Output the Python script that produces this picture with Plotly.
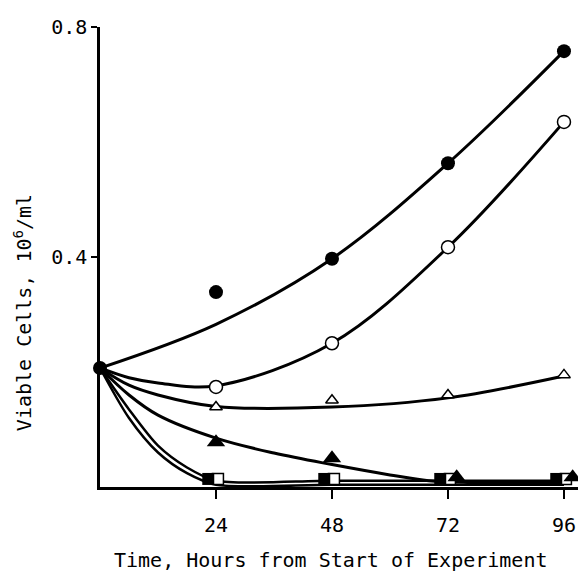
import plotly.graph_objects as go

# ---- data ----
hours = [0, 24, 48, 72, 96]
marker_hours = [24, 48, 72, 96]

# filled circles
filled_circle_vals = [0.207, 0.339, 0.397, 0.563, 0.758]
# open circles
open_circle_hours = [24, 48, 72, 96]
open_circle_vals = [0.174, 0.25, 0.417, 0.635]
# open triangles
open_tri_vals = [0.139, 0.151, 0.16, 0.195]
# filled triangles
filled_tri_vals = [0.078, 0.05, 0.017, 0.017]
# filled / open squares
filled_sq_vals = [0.014, 0.014, 0.014, 0.014]
open_sq_vals = [0.014, 0.014, 0.014, 0.014]

# fitted curves
fc_curve_hours = [0, 24, 48, 72, 96]
fc_curve_vals = [0.207, 0.283, 0.397, 0.563, 0.758]

oc_curve_hours = [0, 6, 12, 24, 48, 72, 96]
oc_curve_vals = [0.207, 0.19, 0.181, 0.176, 0.25, 0.417, 0.635]

ot_curve_hours = [0, 6, 12, 24, 48, 72, 96]
ot_curve_vals = [0.207, 0.177, 0.16, 0.14, 0.139, 0.155, 0.193]

ft_curve_hours = [0, 6, 12, 24, 36, 48, 60, 68, 76, 96]
ft_curve_vals = [0.207, 0.16, 0.125, 0.085, 0.059, 0.039, 0.021, 0.011, 0.008, 0.008]

fs_curve_hours = [0, 6, 12, 18, 24, 48, 72, 96]
fs_curve_vals = [0.207, 0.12, 0.06, 0.024, 0.004, 0.004, 0.004, 0.004]

os_curve_hours = [0, 6, 12, 18, 24, 48, 72, 96]
os_curve_vals = [0.207, 0.135, 0.072, 0.034, 0.011, 0.011, 0.011, 0.011]

x_ticks = [24, 48, 72, 96]
x_tick_labels = ["24", "48", "72", "96"]
y_ticks = [0.4, 0.8]
y_tick_labels = ["0.4", "0.8"]

FONT = "DejaVu Sans Mono"
BLACK = "black"
FS = 20

fig = go.Figure()

def curve(xs, ys, width=3, smoothing=1.0):
    fig.add_trace(go.Scatter(x=xs, y=ys, mode="lines",
                             line=dict(color=BLACK, width=width, shape="spline", smoothing=smoothing),
                             hoverinfo="skip", showlegend=False))

curve(fs_curve_hours, fs_curve_vals, 2.5, 0.8)
curve(os_curve_hours, os_curve_vals, 2.5, 0.8)
curve(ft_curve_hours, ft_curve_vals, 3)
curve(ot_curve_hours, ot_curve_vals, 3)
curve(oc_curve_hours, oc_curve_vals, 3)
curve(fc_curve_hours, fc_curve_vals, 3)

# markers (small horizontal offsets where markers overlap in the original)
fig.add_trace(go.Scatter(x=[h + 0.4 for h in marker_hours], y=open_sq_vals, mode="markers",
                         marker=dict(symbol="square", size=11, color="white",
                                     line=dict(color=BLACK, width=1.5)),
                         showlegend=False, cliponaxis=False))
fig.add_trace(go.Scatter(x=[h - 1.6 for h in marker_hours], y=filled_sq_vals, mode="markers",
                         marker=dict(symbol="square", size=12, color=BLACK),
                         showlegend=False, cliponaxis=False))
tri_offsets = [0, 0, 1.8, 1.8]
fig.add_trace(go.Scatter(x=[h + o for h, o in zip(marker_hours, tri_offsets)], y=filled_tri_vals,
                         mode="markers",
                         marker=dict(symbol="triangle-up", size=16, color=BLACK),
                         showlegend=False, cliponaxis=False))
fig.add_trace(go.Scatter(x=marker_hours, y=open_tri_vals, mode="markers",
                         marker=dict(symbol="triangle-up", size=11, color="white",
                                     line=dict(color=BLACK, width=1.5)),
                         showlegend=False, cliponaxis=False))
fig.add_trace(go.Scatter(x=open_circle_hours, y=open_circle_vals, mode="markers",
                         marker=dict(symbol="circle", size=13, color="white",
                                     line=dict(color=BLACK, width=1.5)),
                         showlegend=False, cliponaxis=False))
fig.add_trace(go.Scatter(x=hours, y=filled_circle_vals, mode="markers",
                         marker=dict(symbol="circle", size=14, color=BLACK),
                         showlegend=False, cliponaxis=False))

fig.update_layout(
    width=578, height=581,
    margin=dict(l=100, r=0, t=27, b=94),
    paper_bgcolor="white", plot_bgcolor="white",
    font=dict(family=FONT, color=BLACK, size=FS),
    xaxis=dict(range=[0, 98.9], tickvals=x_ticks, ticktext=x_tick_labels,
               showline=True, linecolor=BLACK, linewidth=2.5,
               ticks="outside", ticklen=9, tickwidth=2, tickcolor=BLACK,
               ticklabelstandoff=9,
               showgrid=False, zeroline=False,
               tickfont=dict(family=FONT, size=FS)),
    yaxis=dict(range=[0, 0.8], tickvals=y_ticks, ticktext=y_tick_labels,
               showline=True, linecolor=BLACK, linewidth=2.5,
               ticks="outside", ticklen=6, tickwidth=2, tickcolor=BLACK,
               showgrid=False, zeroline=False,
               tickfont=dict(family=FONT, size=FS)),
    annotations=[
        dict(text="Time, Hours from Start of Experiment", xref="paper", yref="paper",
             x=0.483, y=-0.159, showarrow=False, xanchor="center", yanchor="middle",
             font=dict(family=FONT, size=FS)),
        dict(text="Viable Cells, 10<sup>6</sup>/ml", xref="paper", yref="paper",
             x=-0.161, y=0.378, showarrow=False, textangle=-90,
             xanchor="center", yanchor="middle",
             font=dict(family=FONT, size=FS)),
    ],
)

# remove the page's default 8 px body margin so the figure fills the window exactly
fig.write_html("out.html",
               config={"displayModeBar": False},
               post_script="document.body.style.margin='0';document.body.style.overflow='hidden';")
